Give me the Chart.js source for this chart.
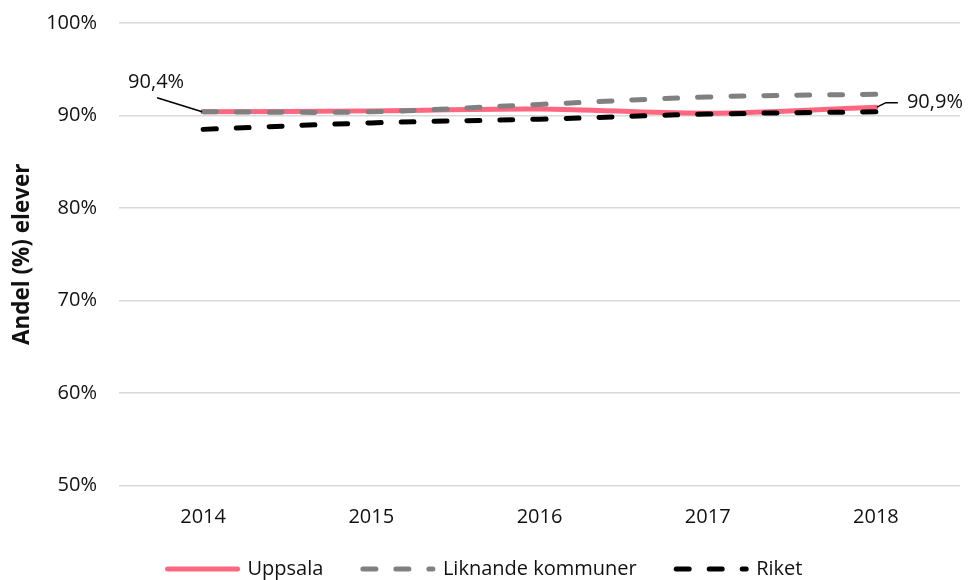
<!DOCTYPE html>
<html>
<head>
<meta charset="utf-8">
<script src="https://cdn.jsdelivr.net/npm/chart.js@4/dist/chart.umd.min.js"></script>
<style>
  html, body { margin: 0; padding: 0; background: #fff; }
  #wrap { width: 968px; height: 580px; }
</style>
</head>
<body>
<div id="wrap"><canvas id="c" width="968" height="580"></canvas></div>
<script>
// ---- data ----
const categories = ['2014', '2015', '2016', '2017', '2018'];
const uppsala = [90.4, 90.5, 90.7, 90.25, 90.9];
const liknande = [90.4, 90.4, 91.2, 92.0, 92.3];
const riket = [88.5, 89.2, 89.6, 90.15, 90.4];
const seriesNames = ['Uppsala', 'Liknande kommuner', 'Riket'];
const yTicks = [50, 60, 70, 80, 90, 100];
const labelUppsalaFirst = '90,4%';
const labelUppsalaLast = '90,9%';

const FONT = "'Open Sans', 'Noto Sans', sans-serif";
const TEXT = '#111111';
const PINK = '#ff6680';
const GREY = '#808080';
const BLACK = '#000000';

const dashPattern = [13, 20];

const leaderPlugin = {
  id: 'leaders',
  afterDatasetsDraw(chart) {
    const meta = chart.getDatasetMeta(0);
    const p0 = meta.data[0];
    const pN = meta.data[meta.data.length - 1];
    const ctx = chart.ctx;
    ctx.save();
    ctx.strokeStyle = '#000';
    ctx.lineWidth = 1.5;
    ctx.setLineDash([]);
    ctx.beginPath();
    ctx.moveTo(p0.x - 46, p0.y - 14);
    ctx.lineTo(p0.x - 1, p0.y);
    ctx.stroke();
    ctx.beginPath();
    ctx.moveTo(pN.x + 1, pN.y);
    ctx.lineTo(pN.x + 10, pN.y - 4.5);
    ctx.lineTo(pN.x + 22, pN.y - 4.5);
    ctx.stroke();
    ctx.fillStyle = TEXT;
    ctx.font = "20px " + FONT;
    ctx.textBaseline = 'middle';
    ctx.textAlign = 'center';
    ctx.fillText(labelUppsalaFirst, p0.x - 47, p0.y - 30);
    ctx.textAlign = 'left';
    ctx.fillText(labelUppsalaLast, pN.x + 31, pN.y - 4.5);
    ctx.restore();
  }
};

const colors = [PINK, GREY, BLACK];
const dashes = [[], dashPattern, dashPattern];

new Chart(document.getElementById('c'), {
  type: 'line',
  data: {
    labels: categories,
    datasets: [
      { label: seriesNames[0], data: uppsala, borderColor: PINK, backgroundColor: PINK, borderWidth: 5, order: 3, borderCapStyle: 'round' },
      { label: seriesNames[1], data: liknande, borderColor: GREY, backgroundColor: GREY, borderWidth: 5, borderDash: dashPattern, borderCapStyle: 'round', order: 2 },
      { label: seriesNames[2], data: riket, borderColor: BLACK, backgroundColor: BLACK, borderWidth: 5, borderDash: dashPattern, borderCapStyle: 'round', order: 1 }
    ]
  },
  options: {
    responsive: false,
    devicePixelRatio: 1,
    animation: false,
    layout: { padding: { top: 23, left: 10, right: 8, bottom: -9 } },
    elements: {
      point: { radius: 0, hoverRadius: 0 },
      line: { tension: 0.35, fill: false }
    },
    plugins: {
      tooltip: { enabled: false },
      legend: {
        position: 'bottom',
        labels: {
          usePointStyle: true,
          pointStyleWidth: 70,
          padding: 29.5,
          color: TEXT,
          font: { family: FONT, size: 20 },
          generateLabels(chart) {
            return seriesNames.map((name, i) => ({
              text: i < seriesNames.length - 1 ? name + '\u2002' : name,
              datasetIndex: i,
              fillStyle: colors[i],
              strokeStyle: colors[i],
              fontColor: TEXT,
              lineWidth: 5,
              lineDash: dashes[i],
              lineCap: 'round',
              pointStyle: 'line',
              hidden: false
            }));
          }
        }
      }
    },
    scales: {
      x: {
        offset: true,
        grid: { display: false, drawTicks: false },
        border: { display: false },
        ticks: { color: TEXT, font: { family: FONT, size: 20 }, padding: 19.5, maxRotation: 0 },
        afterFit(scale) { scale.height = 44; }
      },
      y: {
        min: 50,
        max: 100,
        afterBuildTicks(scale) { scale.ticks = yTicks.map(v => ({ value: v })); },
        grid: { color: '#d9d9d9', lineWidth: 1.5, drawTicks: false },
        border: { display: false },
        ticks: { color: TEXT, font: { family: FONT, size: 20 }, padding: 22, callback: v => v + '%' },
        title: { display: true, text: 'Andel (%) elever', color: TEXT, font: { family: FONT, size: 22.5, weight: 'bold' }, padding: { top: -1, bottom: 0 } },
        afterFit(scale) { scale.width = 109; scale.paddingTop = 0; scale.paddingBottom = 0; }
      }
    }
  },
  plugins: [leaderPlugin]
});
</script>
</body>
</html>
